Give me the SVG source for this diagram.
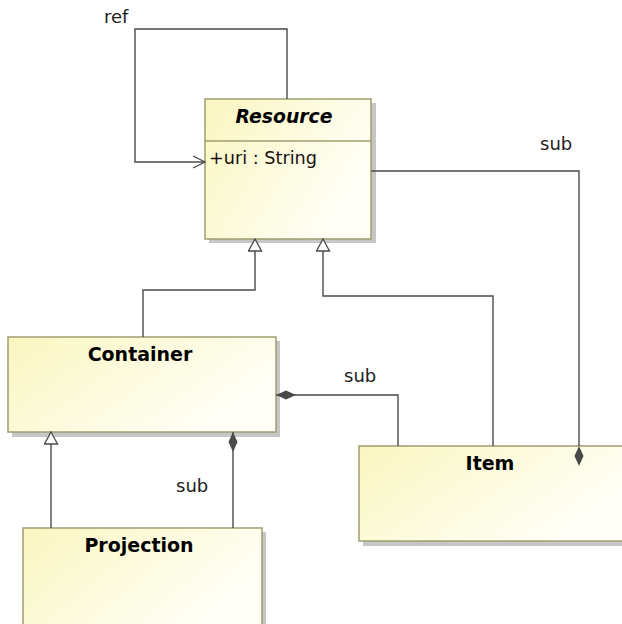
<svg xmlns="http://www.w3.org/2000/svg" width="622" height="624" viewBox="0 0 622 624">
  <defs>
    <linearGradient id="classFill" x1="0" y1="0" x2="1" y2="0.5">
      <stop offset="0" stop-color="#FAF6C0"/>
      <stop offset="1" stop-color="#FFFFF8"/>
    </linearGradient>
    <marker id="diamond" viewBox="0 0 20 10" refX="20" refY="5" markerWidth="20" markerHeight="10" markerUnits="userSpaceOnUse" orient="auto">
      <path d="M0,5 L10,0.5 L20,5 L10,9.5 Z" fill="#4A4A4A"/>
    </marker>
    <marker id="triangle" viewBox="0 0 14 15" refX="13" refY="7.5" markerWidth="14" markerHeight="15" markerUnits="userSpaceOnUse" orient="auto">
      <path d="M1,1 L13,7.5 L1,14 Z" fill="#FFFFFF" stroke="#4A4A4A" stroke-width="1.3"/>
    </marker>
    <marker id="openArrow" viewBox="0 0 14 14" refX="13" refY="7" markerWidth="14" markerHeight="14" markerUnits="userSpaceOnUse" orient="auto">
      <path d="M1,1 L13,7 L1,13" fill="none" stroke="#4A4A4A" stroke-width="1.3"/>
    </marker>
  </defs>
  <style>
    .shadow { fill: #C6C6C6; }
    .box { fill: url(#classFill); stroke: #A09E70; stroke-width: 1.5; }
    .title { font-family: "DejaVu Sans", sans-serif; font-size: 19px; font-weight: bold; fill: #000; text-anchor: middle; }
    .attr { font-family: "DejaVu Sans", sans-serif; font-size: 18px; fill: #1A1010; }
    .label { font-family: "DejaVu Sans", sans-serif; font-size: 18px; fill: #222; }
    .edge { fill: none; stroke: #4A4A4A; stroke-width: 1.4; }
  </style>
  <rect width="622" height="624" fill="#FFFFFF"/>

  <g id="Resource">
    <rect class="shadow" x="209" y="103" width="167" height="140"/>
    <rect class="box" x="205" y="99" width="166" height="140"/>
    <line x1="205" y1="141" x2="371" y2="141" stroke="#A09E70" stroke-width="1.5"/>
    <text class="title" x="284" y="123" font-style="italic" textLength="97" lengthAdjust="spacingAndGlyphs">Resource</text>
    <text class="attr" x="209" y="164" textLength="108" lengthAdjust="spacingAndGlyphs">+uri : String</text>
  </g>

  <g id="Container">
    <rect class="shadow" x="12" y="341" width="268" height="96"/>
    <rect class="box" x="8" y="337" width="268" height="95"/>
    <text class="title" x="140" y="361">Container</text>
  </g>

  <g id="Item">
    <rect class="shadow" x="363" y="450" width="270" height="96"/>
    <rect class="box" x="359" y="446" width="270" height="95"/>
    <text class="title" x="490" y="470">Item</text>
  </g>

  <g id="Projection">
    <rect class="shadow" x="27" y="532" width="239" height="100"/>
    <rect class="box" x="23" y="528" width="239" height="100"/>
    <text class="title" x="139" y="552">Projection</text>
  </g>

  <g id="connectors">
    <!-- Resource self-association "ref" -->
    <path class="edge" d="M287,99 L287,29 L135,29 L135,162 L205,162" marker-end="url(#openArrow)"/>
    <text class="label" x="104" y="23">ref</text>

    <!-- Generalizations towards Resource -->
    <path class="edge" d="M143,337 L143,290 L255,290 L255,239" marker-end="url(#triangle)"/>
    <path class="edge" d="M493,446 L493,296 L323,296 L323,239" marker-end="url(#triangle)"/>

    <!-- Resource composes Item -->
    <path class="edge" d="M579,446 L579,171 L371,171" marker-start="url(#diamond)"/>
    <text class="label" x="540" y="150">sub</text>

    <!-- Container composes Item -->
    <path class="edge" d="M398,446 L398,395 L276,395" marker-end="url(#diamond)"/>
    <text class="label" x="344" y="382">sub</text>

    <!-- Projection specializes Container -->
    <path class="edge" d="M51,528 L51,432" marker-end="url(#triangle)"/>

    <!-- Container composes Projection -->
    <path class="edge" d="M233,528 L233,432" marker-end="url(#diamond)"/>
    <text class="label" x="176" y="492">sub</text>
  </g>
</svg>
